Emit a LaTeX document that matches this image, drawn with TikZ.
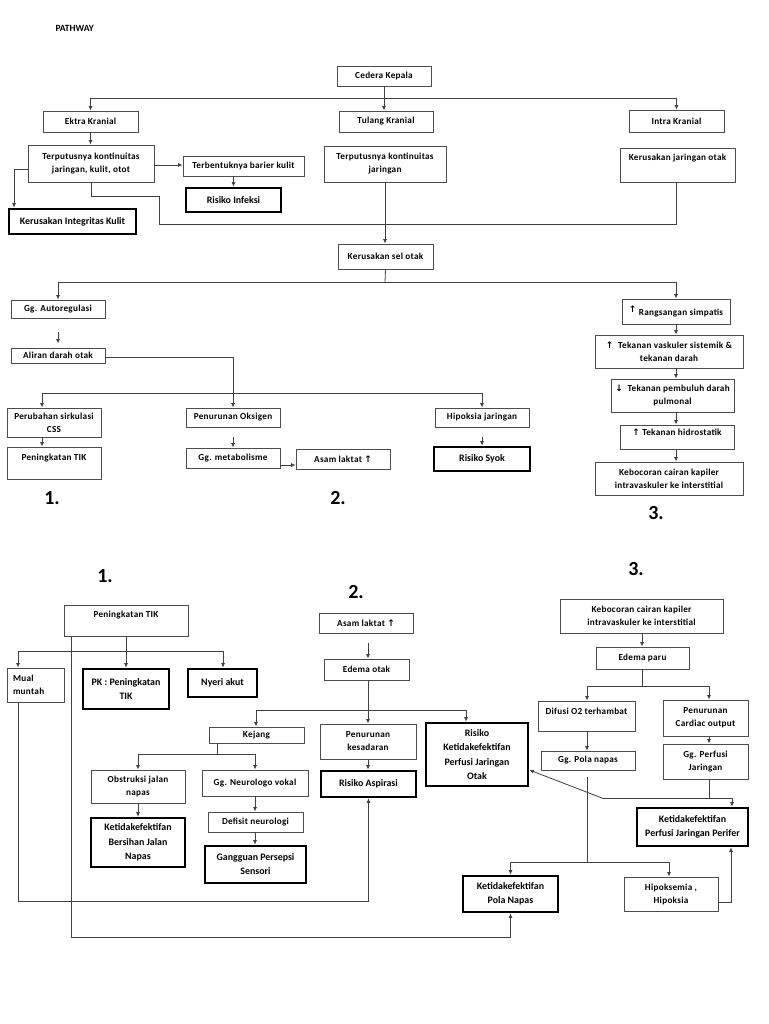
\documentclass[tikz,border=0pt]{standalone}
\usepackage{fontspec}
\setmainfont{Carlito}
\newfontfamily\nf[LetterSpace=3]{Carlito}
\newfontfamily\symf{DejaVu Sans}
\usetikzlibrary{arrows.meta}
\newcommand\uarr{{\symf\bfseries\fontsize{9}{8}\selectfont ↑}}
\newcommand\darr{{\symf\bfseries\fontsize{9}{8}\selectfont ↓}}
\begin{document}
\begin{tikzpicture}[x=1pt,y=-1pt,
  box/.style={draw=black!70, line width=0.9pt, inner sep=1pt, align=center, font=\nf\bfseries\fontsize{9.2}{13}\selectfont},
  tbox/.style={box, draw=black, line width=2.6pt, font=\bfseries\fontsize{9.9}{14}\selectfont},
  tboxl/.style={tbox, font=\bfseries\fontsize{9.9}{14.3}\selectfont},
  ln/.style={draw=black!75, line width=0.8pt},
  arr/.style={ln, -{Latex[length=4.5pt,width=4pt]}},
  num/.style={font=\fontsize{20}{24}\selectfont\bfseries},
]
\useasboundingbox[fill=white] (0,0) rectangle (768,1024);

\node[anchor=west, font=\fontsize{9.5}{11}\selectfont\bfseries] (title) at (52,28) {PATHWAY};

% ---------- top ----------
\node[box, minimum width=94, minimum height=20] (cedera) at (384,76) {Cedera Kepala};
\node[box, minimum width=95, minimum height=21] (ekstra) at (90.5,121.5) {Ektra Kranial};
\node[box, minimum width=94, minimum height=21] (tulang) at (386,121.5) {Tulang Kranial};
\node[box, minimum width=95, minimum height=22] (intra) at (676.5,121) {Intra Kranial};
\node[box, minimum width=126, minimum height=37] (putus1) at (91,163.5) {Terputusnya kontinuitas\\jaringan, kulit, otot};
\node[box, minimum width=121, minimum height=20] (barier) at (243.5,166) {Terbentuknya barier kulit};
\node[tbox, minimum width=95, minimum height=24] (infeksi) at (233.5,200) {Risiko Infeksi};
\node[tbox, minimum width=127, minimum height=25] (integ) at (72.5,221.5) {Kerusakan Integritas Kulit};
\node[box, minimum width=122, minimum height=36] (putus2) at (385,164) {Terputusnya kontinuitas\\jaringan};
\node[box, minimum width=115, minimum height=34, text depth=16pt] (jarotak) at (677.5,165) {Kerusakan jaringan otak};
\node[box, minimum width=95, minimum height=25] (selotak) at (385.5,256.5) {Kerusakan sel otak};

\coordinate (j0) at (384,98);
\draw[ln] (cedera.south) -- (j0);
\draw[ln] (ekstra.north |- j0) -- (intra.north |- j0);
\draw[arr] (ekstra.north |- j0) -- (ekstra.north);
\draw[arr] (j0) -- (j0 |- tulang.north);
\draw[arr] (intra.north |- j0) -- (intra.north);
\draw[arr] (ekstra.south) -- (ekstra.south |- putus1.north);
\draw[arr] ([yshift=-1.5pt]putus1.east) -- ([yshift=-1.5pt]putus1.east -| barier.west);
\draw[arr] (infeksi.north |- barier.south) -- (infeksi.north);
\coordinate (k1) at (14,169);
\draw[arr] (putus1.west |- k1) -- (k1) -- (k1 |- integ.north);
\coordinate (j1) at (385,224);
\draw[ln] (putus1.south) -- (putus1.south |- 0,196) -- (159,196) -- (159,224) -- (j1);
\draw[arr] (putus2.south) -- (putus2.south |- selotak.north);
\draw[ln] (jarotak.south -| 676,0) -- (676,224) -- (j1);

% ---------- middle ----------
\node[box, minimum width=94, minimum height=18] (autoreg) at (58,309) {Gg. Autoregulasi};
\node[box, minimum width=94, minimum height=15] (aliran) at (58,355.5) {Aliran darah otak};
\node[box, minimum width=94, minimum height=29] (perubahan) at (54,422.5) {Perubahan sirkulasi\\CSS};
\node[box, minimum width=94, minimum height=32, text depth=12pt] (tik1) at (54,463) {Peningkatan TIK};
\node[box, minimum width=94, minimum height=19] (oksigen) at (233,417.5) {Penurunan Oksigen};
\node[box, minimum width=94, minimum height=20] (metab) at (233,458) {Gg. metabolisme};
\node[box, minimum width=94, minimum height=20] (laktat1) at (343,459) {Asam laktat \uarr};
\node[box, minimum width=94, minimum height=19] (hipoksia) at (482,417.5) {Hipoksia jaringan};
\node[tbox, minimum width=96, minimum height=24] (syok) at (482,459) {Risiko Syok};
\node[box, minimum width=108, minimum height=25] (rangs) at (676,311.5) {\raisebox{3pt}{\uarr} Rangsangan simpatis};
\node[box, minimum width=148, minimum height=33] (vask) at (669,351.5) {\uarr\ \ Tekanan vaskuler sistemik \&\\tekanan darah};
\node[box, minimum width=123, minimum height=33] (pembuluh) at (672.5,395.5) {\darr\ \ Tekanan pembuluh darah\\pulmonal};
\node[box, minimum width=114, minimum height=24, text depth=10pt] (hidro) at (677,437) {\uarr\ Tekanan hidrostatik};
\node[box, minimum width=148, minimum height=33] (kebocor1) at (669,478.5) {Kebocoran cairan kapiler\\intravaskuler ke interstitial};

\node[num] (n1a) at (52,498) {1.};
\node[num] (n2a) at (338,498) {2.};
\node[num] (n3a) at (656,513) {3.};

\coordinate (j2) at (385,282);
\draw[ln] (selotak.south) -- (j2);
\draw[ln] (autoreg.north |- j2) -- (rangs.north |- j2);
\draw[arr] (autoreg.north |- j2) -- (autoreg.north);
\draw[arr] (rangs.north |- j2) -- (rangs.north);
\draw[arr, shorten <=14pt, shorten >=4pt] (autoreg.south) -- (aliran.north);
\coordinate (j3) at (233,393);
\draw[ln] ([yshift=-2pt]aliran.east) -| (j3);
\draw[arr] (j3) -- (oksigen.north);
\coordinate (p1) at (42,393);
\coordinate (p2) at (482,393);
\draw[ln] (p1) -- (p2);
\draw[arr] (p1) -- (p1 |- perubahan.north);
\draw[arr] (p2) -- (hipoksia.north);
\draw[arr] (p1 |- perubahan.south) -- (p1 |- tik1.north);
\draw[arr, shorten <=10pt] (oksigen.south) -- (metab.north);
\draw[arr] ([yshift=-7pt]metab.east) -- ([yshift=-7pt]metab.east -| laktat1.west);
\draw[arr, shorten <=10pt] (hipoksia.south) -- (syok.north);
\draw[arr] (rangs.south) -- (rangs.south |- vask.north);
\draw[arr] (rangs.south |- vask.south) -- (rangs.south |- pembuluh.north);
\draw[arr] (rangs.south |- pembuluh.south) -- (rangs.south |- hidro.north);
\draw[arr] (rangs.south |- hidro.south) -- (rangs.south |- kebocor1.north);

% ---------- bottom ----------
\node[num] (n1b) at (105,576) {1.};
\node[num] (n2b) at (356,592) {2.};
\node[num] (n3b) at (636,569) {3.};

\node[box, minimum width=124, minimum height=31, text depth=13pt] (tik2) at (126,620.5) {Peningkatan TIK};
\node[box, minimum width=57, minimum height=34, text width=45pt, inner xsep=6pt, align=left] (mual) at (35.5,685) {Mual\\muntah};
\node[tbox, minimum width=86, minimum height=40] (pk) at (126,689) {PK : Peningkatan\\TIK};
\node[tbox, minimum width=69, minimum height=28] (nyeri) at (222.5,683) {Nyeri akut};
\node[box, minimum width=94, minimum height=20] (laktat2) at (366,623) {Asam laktat \uarr};
\node[box, minimum width=85, minimum height=21] (edema) at (366.5,669.5) {Edema otak};
\node[box, minimum width=95, minimum height=16] (kejang) at (256.5,735) {Kejang};
\node[box, minimum width=96, minimum height=35] (kesadaran) at (368,741.5) {Penurunan\\kesadaran};
\node[tboxl, minimum width=102, minimum height=63] (rkpjo) at (477,754.5) {Risiko\\Ketidakefektifan\\Perfusi Jaringan\\Otak};
\node[tbox, minimum width=95, minimum height=26] (aspirasi) at (368.5,784) {Risiko Aspirasi};
\node[box, minimum width=94, minimum height=33] (obstruksi) at (138,786.5) {Obstruksi jalan\\napas};
\node[tboxl, minimum width=94, minimum height=49] (bersihan) at (138,842.5) {Ketidakefektifan\\Bersihan Jalan\\Napas};
\node[box, minimum width=106, minimum height=26] (neuro) at (255,783) {Gg. Neurologo vokal};
\node[box, minimum width=95, minimum height=20] (defisit) at (255.5,822) {Defisit neurologi};
\node[tbox, minimum width=101, minimum height=37] (persepsi) at (255.5,864.5) {Gangguan Persepsi\\Sensori};

\node[box, minimum width=163, minimum height=34] (kebocor2) at (641.5,616) {Kebocoran cairan kapiler\\intravaskuler ke interstitial};
\node[box, minimum width=93, minimum height=22] (edparu) at (642.5,658) {Edema paru};
\node[box, minimum width=97, minimum height=30, text depth=10pt] (difusi) at (586.5,716) {Difusi O2 terhambat};
\node[box, minimum width=94, minimum height=19] (polanapas) at (588,760.5) {Gg. Pola napas};
\node[box, minimum width=85, minimum height=36] (cardiac) at (705.5,718) {Penurunan\\Cardiac output};
\node[box, minimum width=85, minimum height=35] (perfusi) at (705.5,761.5) {Gg. Perfusi\\Jaringan};
\node[tbox, minimum width=111, minimum height=38] (perifer) at (692.5,827) {Ketidakefektifan\\Perfusi Jaringan Perifer};
\node[tbox, minimum width=95, minimum height=36] (pola) at (510.5,894) {Ketidakefektifan\\Pola Napas};
\node[box, minimum width=94, minimum height=34] (hipoks) at (671,894) {Hipoksemia ,\\Hipoksia};

% connectors bottom left
\coordinate (b0) at (18,651);
\coordinate (b1) at (126,651);
\coordinate (b2) at (223,651);
\draw[ln] (tik2.south) -- (b1);
\draw[ln] (b0) -- (b2);
\draw[arr] (b0) -- (b0 |- mual.north);
\draw[arr] (b1) -- (pk.north);
\draw[arr] (b2) -- (b2 |- nyeri.north);
\draw[arr] (tik2.south -| 71,0) -- (71,937) -| (pola.south);
\draw[arr] (mual.south -| b0) -- (18,901) -| (aspirasi.south);

% connectors bottom middle
\draw[arr, shorten <=10pt] (laktat2.south -| 368,0) -- (edema.north -| 368,0);
\coordinate (e1) at (368,710);
\draw[ln] (edema.south -| e1) -- (e1);
\draw[ln] (256,710) -- (466,710);
\draw[arr] (256,710) -- (kejang.north -| 256,0);
\draw[arr] (kesadaran.north |- e1) -- (kesadaran.north);
\draw[arr] (466,710) -- (rkpjo.north -| 466,0);
\coordinate (g1) at (217,754);
\draw[ln] (kejang.south -| g1) -- (g1);
\draw[ln] (obstruksi.north |- g1) -- (neuro.north |- g1);
\draw[arr] (obstruksi.north |- g1) -- (obstruksi.north);
\draw[arr] (neuro.north |- g1) -- (neuro.north);
\draw[arr] (obstruksi.south) -- (bersihan.north);
\draw[arr] (neuro.south) -- (neuro.south |- defisit.north);
\draw[arr] (neuro.south |- defisit.south) -- (neuro.south |- persepsi.north);
\draw[arr] (kesadaran.south) -- (kesadaran.south |- aspirasi.north);

% connectors bottom right
\draw[arr] (kebocor2.south -| 642,0) -- (edparu.north -| 642,0);
\coordinate (f1) at (642,686);
\draw[ln] (edparu.south -| f1) -- (f1);
\draw[ln] (587,686) -- (709,686);
\draw[arr] (587,686) -- (difusi.north -| 587,0);
\draw[arr] (709,686) -- (cardiac.north -| 709,0);
\draw[arr] (difusi.south -| 587,0) -- (polanapas.north -| 587,0);
\draw[arr] (cardiac.south -| 709,0) -- (perfusi.north -| 709,0);
\coordinate (h1) at (709,798);
\draw[ln] (perfusi.south -| h1) -- (h1);
\coordinate (h0) at (602,798);
\draw[ln] (h0) -- (732,798);
\draw[arr] (732,798) -- (perifer.north -| 732,0);
\draw[arr] (h0) -- (rkpjo.east |- 0,770);
\coordinate (m1) at (587,862);
\draw[ln, shorten <=7pt] (polanapas.south -| m1) -- (m1);
\draw[ln] (pola.north |- m1) -- (669,862);
\draw[arr] (pola.north |- m1) -- (pola.north);
\draw[arr] (669,862) -- (hipoks.north -| 669,0);
\draw[arr] (hipoks.east |- 0,902) -- (731,902) -- (perifer.south -| 731,0);
\end{tikzpicture}
\end{document}
